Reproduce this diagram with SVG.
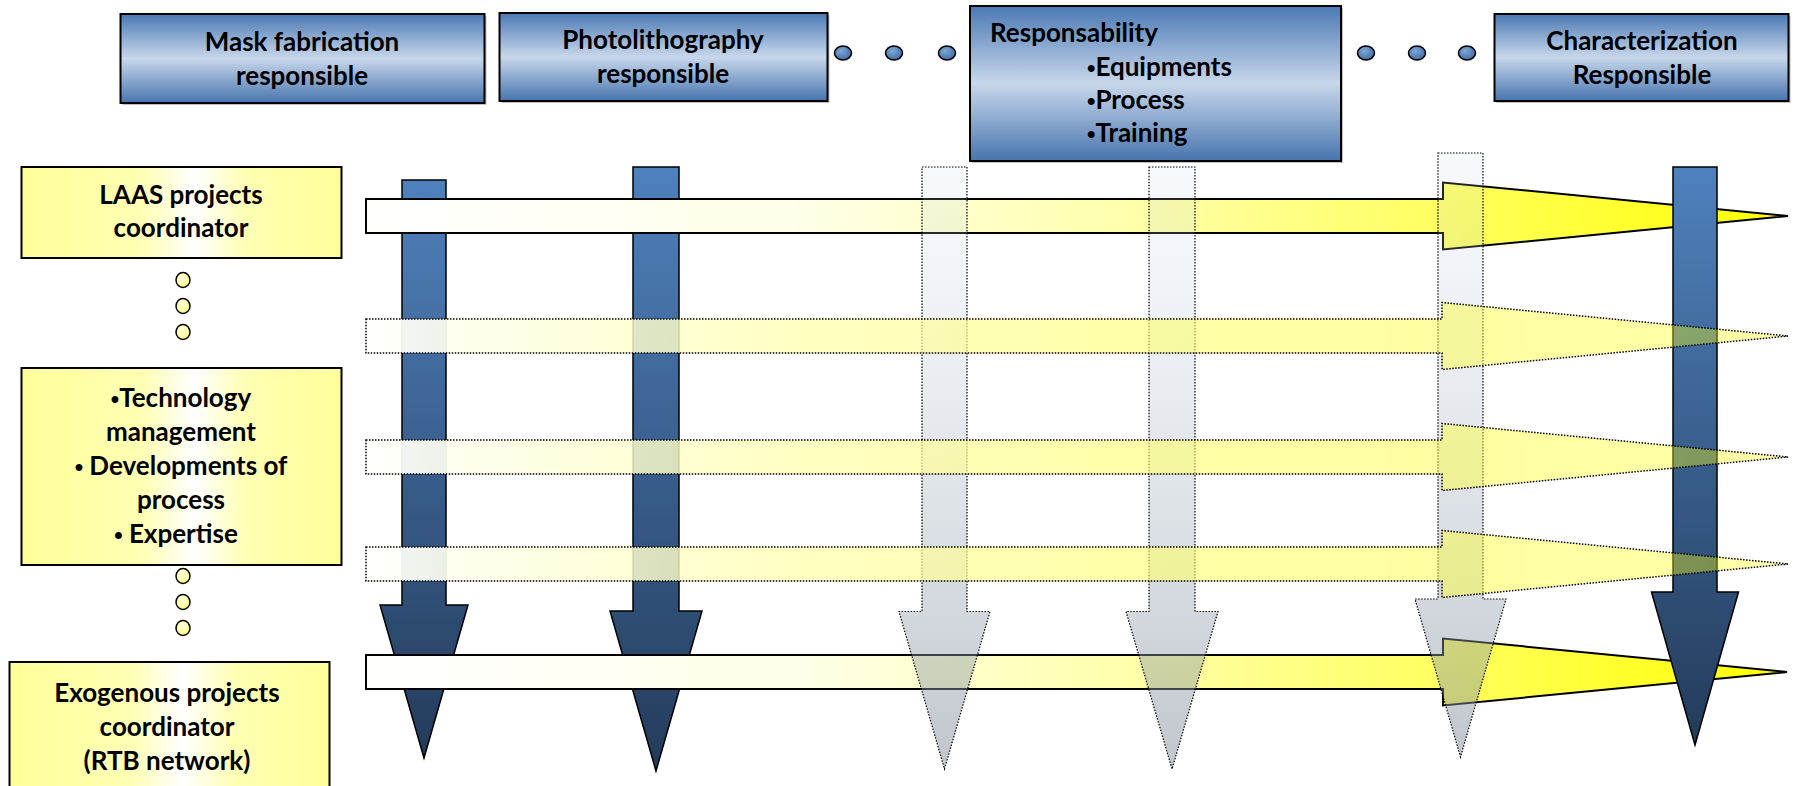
<svg xmlns="http://www.w3.org/2000/svg" width="1794" height="786" viewBox="0 0 1794 786">
<defs>
<linearGradient id="gBlueBox" x1="0" y1="0" x2="0" y2="1">
<stop offset="0" stop-color="#4A79B4"/>
<stop offset="0.5" stop-color="#C8D7EB"/>
<stop offset="1" stop-color="#4775AE"/>
</linearGradient>
<linearGradient id="gYellowBox" x1="0" y1="0" x2="1" y2="0">
<stop offset="0" stop-color="#FFFF99"/>
<stop offset="0.38" stop-color="#FFFFB4"/>
<stop offset="0.54" stop-color="#FFFFFF"/>
<stop offset="0.7" stop-color="#FFFFB4"/>
<stop offset="1" stop-color="#FFFF99"/>
</linearGradient>
<linearGradient id="gDark" x1="0" y1="0" x2="0" y2="1">
<stop offset="0" stop-color="#4F81BD"/>
<stop offset="1" stop-color="#233B5A"/>
</linearGradient>
<linearGradient id="gLight" x1="0" y1="0" x2="0" y2="1">
<stop offset="0" stop-color="#C8D7EB" stop-opacity="0.15"/>
<stop offset="1" stop-color="#808C96" stop-opacity="0.5"/>
</linearGradient>
<linearGradient id="gSolid" x1="0" y1="0" x2="1" y2="0">
<stop offset="0" stop-color="#FFFFFF"/>
<stop offset="0.3" stop-color="#FFFFEA"/>
<stop offset="0.55" stop-color="#FFFFA8"/>
<stop offset="0.8" stop-color="#FFFF50"/>
<stop offset="1" stop-color="#FFFF00"/>
</linearGradient>
<linearGradient id="gDotted" x1="0" y1="0" x2="1" y2="0">
<stop offset="0" stop-color="#FFFFFF" stop-opacity="0.95"/>
<stop offset="1" stop-color="#FFFF00" stop-opacity="0.33"/>
</linearGradient>
<radialGradient id="gBlueDot" cx="0.4" cy="0.35" r="0.7">
<stop offset="0" stop-color="#7FA6D6"/>
<stop offset="1" stop-color="#3E6CA4"/>
</radialGradient>
<radialGradient id="gYellowDot" cx="0.4" cy="0.35" r="0.7">
<stop offset="0" stop-color="#FFFFE0"/>
<stop offset="1" stop-color="#FFFF80"/>
</radialGradient>
</defs>
<style>
.lbl{font-family:Lato,"Liberation Sans",sans-serif;font-weight:bold;font-size:26px;fill:#000;}
.mid{text-anchor:middle;}
.bul{font-family:"Liberation Sans",sans-serif;font-size:24px;}
.blueBox{fill:url(#gBlueBox);stroke:#000;stroke-width:2;}
.shadow{fill:#000;opacity:0.25;}
.yellowBox{fill:url(#gYellowBox);stroke:#000;stroke-width:2;}
.bdot{fill:url(#gBlueDot);stroke:#000;stroke-width:1.5;}
.ydot{fill:url(#gYellowDot);stroke:#000;stroke-width:1.5;}
.dark{fill:url(#gDark);stroke:#000;stroke-width:1.5;}
.light{fill:url(#gLight);stroke:#000;stroke-width:1.2;stroke-dasharray:1.5 1.5;}
.solid{fill:url(#gSolid);stroke:#000;stroke-width:2;}
.dotted{fill:url(#gDotted);stroke:#000;stroke-width:1.5;stroke-dasharray:1.5 1.5;}
</style>
<rect width="1794" height="786" fill="#FFFFFF"/>

<g id="mask-fabrication">
<rect class="shadow" x="122.5" y="16" width="364" height="89"/>
<rect class="blueBox" x="120.5" y="14" width="364" height="89"/>
<text class="lbl mid" x="302" y="51">Mask fabrication</text>
<text class="lbl mid" x="302" y="85">responsible</text>
</g>
<g id="photolithography">
<rect class="shadow" x="501.5" y="15" width="328" height="88"/>
<rect class="blueBox" x="499.5" y="13" width="328" height="88"/>
<text class="lbl mid" x="663" y="49">Photolithography</text>
<text class="lbl mid" x="663" y="83">responsible</text>
</g>
<g id="dots-left">
<ellipse class="bdot" cx="843" cy="53" rx="8.5" ry="7"/>
<ellipse class="bdot" cx="894" cy="53" rx="8.5" ry="7"/>
<ellipse class="bdot" cx="947" cy="53" rx="8.5" ry="7"/>
</g>
<g id="responsability">
<rect class="shadow" x="972" y="8" width="371" height="155"/>
<rect class="blueBox" x="970" y="6" width="371" height="155"/>
<text class="lbl" x="990" y="42">Responsability</text>
<text class="lbl" x="1087" y="76"><tspan class="bul">•</tspan>Equipments</text>
<text class="lbl" x="1087" y="109"><tspan class="bul">•</tspan>Process</text>
<text class="lbl" x="1087" y="142"><tspan class="bul">•</tspan>Training</text>
</g>
<g id="dots-right">
<ellipse class="bdot" cx="1366" cy="53" rx="8.5" ry="7"/>
<ellipse class="bdot" cx="1417" cy="53" rx="8.5" ry="7"/>
<ellipse class="bdot" cx="1467" cy="53" rx="8.5" ry="7"/>
</g>
<g id="characterization">
<rect class="shadow" x="1496.5" y="16" width="294" height="87"/>
<rect class="blueBox" x="1494.5" y="14" width="294" height="87"/>
<text class="lbl mid" x="1642" y="50">Characterization</text>
<text class="lbl mid" x="1642" y="84">Responsible</text>
</g>

<g id="laas-coordinator">
<rect class="yellowBox" x="21.5" y="167" width="320" height="91"/>
<text class="lbl mid" x="181" y="204">LAAS projects</text>
<text class="lbl mid" x="181" y="237">coordinator</text>
</g>
<g id="dots-upper">
<ellipse class="ydot" cx="183" cy="280" rx="7" ry="7.5"/>
<ellipse class="ydot" cx="183" cy="306" rx="7" ry="7.5"/>
<ellipse class="ydot" cx="183" cy="332" rx="7" ry="7.5"/>
</g>
<g id="technology">
<rect class="yellowBox" x="21.5" y="368" width="320" height="197"/>
<text class="lbl mid" x="181" y="407"><tspan class="bul">•</tspan>Technology</text>
<text class="lbl mid" x="181" y="441">management</text>
<text class="lbl mid" x="181" y="475"><tspan class="bul">•</tspan> Developments of</text>
<text class="lbl mid" x="181" y="509">process</text>
<text class="lbl mid" x="176" y="543"><tspan class="bul">•</tspan> Expertise</text>
</g>
<g id="dots-lower">
<ellipse class="ydot" cx="183" cy="576" rx="7" ry="7.5"/>
<ellipse class="ydot" cx="183" cy="602" rx="7" ry="7.5"/>
<ellipse class="ydot" cx="183" cy="628" rx="7" ry="7.5"/>
</g>
<g id="exogenous">
<rect class="yellowBox" x="9.5" y="662" width="320" height="140"/>
<text class="lbl mid" x="167" y="702">Exogenous projects</text>
<text class="lbl mid" x="167" y="736">coordinator</text>
<text class="lbl mid" x="167" y="770">(RTB network)</text>
</g>

<g id="connectors">
<path class="dark" d="M402,180 H446 V605 H468 L424,758 L380,605 H402 Z"/>
<path class="dark" d="M633,167 H679 V611 H702 L656,771 L610,611 H633 Z"/>
<path class="solid" d="M366,199 H1443 V182.5 L1788,216 L1443,249.5 V233 H366 Z"/>
<path class="solid" d="M366,655 H1443 V638.5 L1787,672 L1443,705.5 V689 H366 Z"/>
<path class="dark" d="M1673,167 H1717 V592 H1738.5 L1695,745 L1651.5,592 H1673 Z"/>
<path class="light" d="M922,167 H967 V611.5 H990 L944.5,769 L899,611.5 H922 Z"/>
<path class="light" d="M1149,167 H1195 V611.5 H1218 L1172,769 L1126,611.5 H1149 Z"/>
<path class="light" d="M1438,153 H1483 V599 H1506 L1460.5,757 L1415,599 H1438 Z"/>
<path class="dotted" d="M366,319 H1442 V302.5 L1788,336 L1442,369.5 V353 H366 Z"/>
<path class="dotted" d="M366,440 H1442 V423.5 L1788,457 L1442,490.5 V474 H366 Z"/>
<path class="dotted" d="M366,547 H1442 V530.5 L1788,564 L1442,597.5 V581 H366 Z"/>
</g>
</svg>
